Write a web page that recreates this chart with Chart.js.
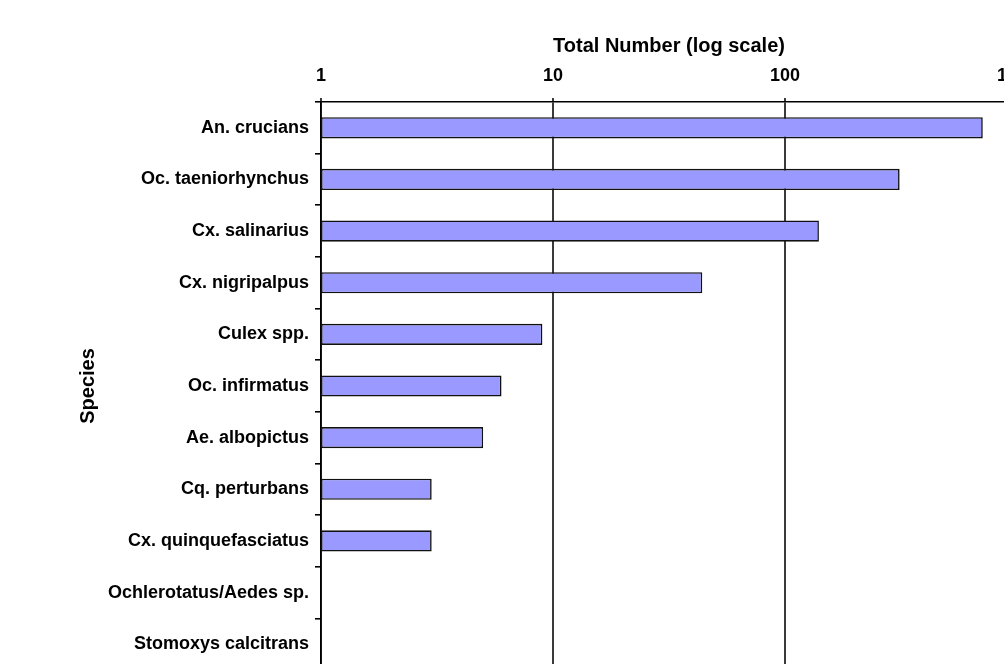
<!DOCTYPE html>
<html>
<head>
<meta charset="utf-8">
<title>Total Number by Species</title>
<script src="https://cdn.jsdelivr.net/npm/chart.js@4.4.1/dist/chart.umd.min.js"></script>
<style>
  html, body { margin: 0; padding: 0; background: #fff; overflow: hidden; }
  #wrap { position: absolute; left: 0; top: 0; }
</style>
</head>
<body>
<div id="wrap"><canvas id="speciesChart"></canvas></div>
<script>
// species counts, top to bottom
const species = [
    'An. crucians',
    'Oc. taeniorhynchus',
    'Cx. salinarius',
    'Cx. nigripalpus',
    'Culex spp.',
    'Oc. infirmatus',
    'Ae. albopictus',
    'Cq. perturbans',
    'Cx. quinquefasciatus',
    'Ochlerotatus/Aedes sp.',
    'Stomoxys calcitrans'
];
const totals = [712, 312, 140, 44, 9, 6, 5, 3, 3, 1, 1];
const xTicks = [1, 10, 100, 1000];

const FONT = "'Liberation Sans', Arial, Helvetica, sans-serif";

const canvas = document.getElementById('speciesChart');
canvas.width = 1060;
canvas.height = 700;
canvas.style.width = '1060px';
canvas.style.height = '700px';

const ctx = canvas.getContext('2d');

window.speciesChart = new Chart(ctx, {
    type: 'bar',
    data: {
        labels: species,
        datasets: [{
            label: 'Total Number',
            data: totals,
            backgroundColor: '#9999FF',
            borderColor: '#111',
            borderWidth: 1.6,
            borderSkipped: false,
            barPercentage: 0.41,
            categoryPercentage: 1
        }]
    },
    options: {
        indexAxis: 'y',
        responsive: false,
        animation: false,
        devicePixelRatio: 1,
        layout: { padding: { left: 0, top: 0, right: 43, bottom: 30 } },
        plugins: {
            legend: { display: false },
            tooltip: { enabled: false }
        },
        scales: {
            x: {
                type: 'logarithmic',
                position: 'top',
                min: 1,
                max: 1000,
                afterBuildTicks: scale => {
                    scale.ticks = xTicks.map(v => ({ value: v }));
                },
                afterFit: scale => {
                    scale.height = 102;
                    scale.paddingLeft = 0;
                    scale.paddingRight = 0;
                },
                ticks: {
                    color: '#000',
                    padding: 11,
                    maxRotation: 0,
                    autoSkip: false,
                    font: { family: FONT, size: 18, weight: 'bold' },
                    callback: v => String(v)
                },
                grid: {
                    color: '#3a3a3a',
                    lineWidth: 2,
                    drawTicks: true,
                    tickLength: 4
                },
                border: { color: '#000', width: 1.6 },
                title: {
                    display: true,
                    text: 'Total Number (log scale)',
                    color: '#000',
                    padding: { top: 34, bottom: 0 },
                    font: { family: FONT, size: 20, weight: 'bold' }
                }
            },
            y: {
                afterFit: scale => {
                    scale.width = 321;
                },
                ticks: {
                    color: '#000',
                    padding: 6,
                    autoSkip: false,
                    font: { family: FONT, size: 18, weight: 'bold' }
                },
                grid: {
                    offset: true,
                    drawOnChartArea: false,
                    drawTicks: true,
                    tickLength: 6,
                    color: '#000',
                    lineWidth: 1.6
                },
                border: { color: '#000', width: 1.6 },
                title: {
                    display: true,
                    text: 'Species',
                    color: '#000',
                    padding: { top: 76, bottom: 0 },
                    font: { family: FONT, size: 20, weight: 'bold' }
                }
            }
        }
    }
});
</script>
</body>
</html>
